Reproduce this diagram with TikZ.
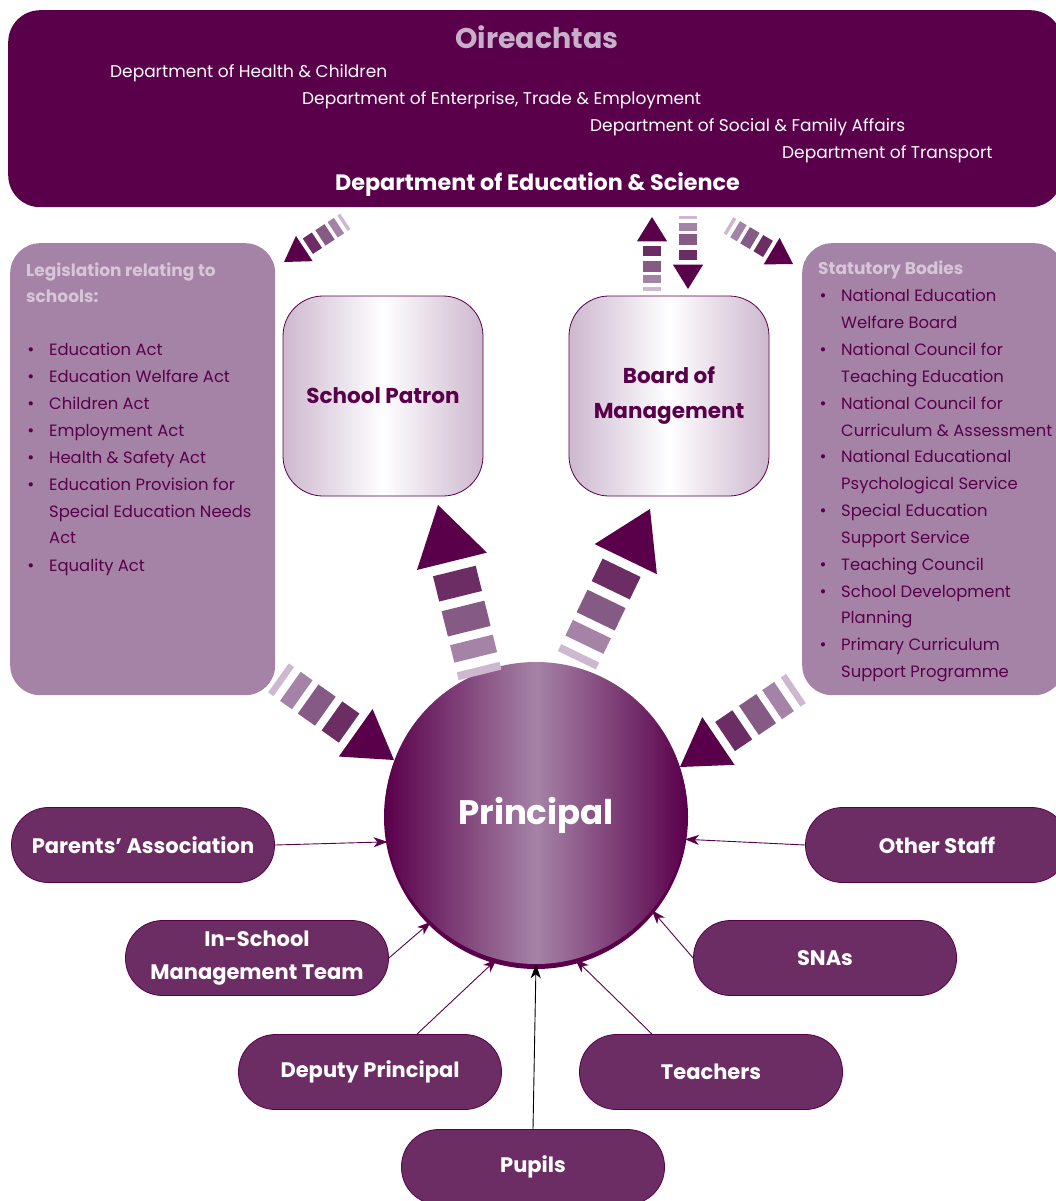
\documentclass[tikz,border=0pt]{standalone}
\usepackage{fontspec}
\setmainfont{Poppins}
\usetikzlibrary{arrows.meta,calc}
\definecolor{dk}{HTML}{5A004B}
\definecolor{pl}{HTML}{6B2D63}
\definecolor{c2}{HTML}{855A85}
\definecolor{lt}{HTML}{A583A6}
\definecolor{vlt}{HTML}{CDB8CF}
\definecolor{hd}{HTML}{D6C6D7}
\definecolor{oc}{HTML}{C8AFC9}
\newcommand\stripearrow[4]{%
  \begin{scope}[shift={(#1,#2)},rotate=#3,scale=#4]
    \fill[dk] (0,0) -- (-58,36) -- (-58,-36) -- cycle;
    \fill[pl] (-68,-22) rectangle (-94,22);
    \fill[c2] (-104,-22) rectangle (-130,22);
    \fill[lt] (-139,-22) rectangle (-157,22);
    \fill[vlt] (-167,-22) rectangle (-175,22);
  \end{scope}}
\begin{document}
\begin{tikzpicture}[x=1pt,y=-1pt,
  topbox/.style={fill=dk, rounded corners=32pt, anchor=north west, inner sep=0},
  sidebox/.style={fill=lt, rounded corners=30pt, anchor=north west, inner sep=0},
  gradbox/.style={draw=dk, line width=0.8pt, rounded corners=40pt, minimum width=200pt, minimum height=200pt,
    left color=vlt, right color=vlt, middle color=white, text=dk, align=center,
    font=\fontsize{21.5}{35}\selectfont\bfseries},
  pill/.style={fill=pl, draw=dk, line width=0.8pt, rounded corners=37pt, minimum width=263pt,
    minimum height=75pt, text=white, align=center, font=\fontsize{21}{33}\selectfont\bfseries},
  depttxt/.style={anchor=west, inner sep=0, text=white, font=\fontsize{17}{20}\selectfont},
  listtxt/.style={anchor=base west, inner sep=0, text=dk, font=\fontsize{16.4}{20}\selectfont},
  bul/.style={anchor=base, inner sep=0, text=dk, font=\fontsize{17}{20}\selectfont},
  hdtxt/.style={anchor=base west, inner sep=0, text=hd, font=\fontsize{17}{20}\selectfont\bfseries},
  conn/.style={draw=dk, line width=0.9pt, -{Stealth[length=14pt,width=10pt,inset=4pt]}}
]
\useasboundingbox (0,0) rectangle (1055,1201);
\fill[white] (0,0) rectangle (1055,1201);

% top box
\node[topbox, minimum width=1054pt, minimum height=197pt] (top) at (8,10) {};
\node[text=oc, inner sep=0, font=\fontsize{28.5}{30}\selectfont\bfseries] (oir) at (537,37) {Oireachtas};
\node[depttxt] (d1) at (110,73) {Department of Health \& Children};
\node[depttxt] (d2) at (302,100) {Department of Enterprise, Trade \& Employment};
\node[depttxt] (d3) at (590,127) {Department of Social \& Family Affairs};
\node[depttxt] (d4) at (782,154) {Department of Transport};
\node[inner sep=0, text=white, font=\fontsize{22.3}{24}\selectfont\bfseries] (des) at (537.5,185) {Department of Education \& Science};

% side boxes
\node[sidebox, minimum width=265pt, minimum height=452pt] (leg) at (10,243) {};
\node[sidebox, minimum width=262pt, minimum height=452pt] (stat) at (802,243) {};
\node[hdtxt] (lh1) at (26,276) {Legislation relating to};
\node[hdtxt] (lh2) at (26,302) {schools:};
\foreach \yy/\tx [count=\i] in {349/Education Act, 376/Education Welfare Act, 403/Children Act,
  430/Employment Act, 457/Health \& Safety Act, 484/Education Provision for,
  511/Special Education Needs, 537/Act, 565/Equality Act}
  \node[listtxt] (lt\i) at (49,\yy+6) {\tx};
\foreach \yy [count=\i] in {349,376,403,430,457,484,565}
  \node[bul] (lb\i) at (31,\yy+6) {•};
\node[hdtxt] (sh) at (818,274) {Statutory Bodies};
\foreach \yy/\tx [count=\i] in {295/National Education, 322/Welfare Board, 349/National Council for,
  376/Teaching Education, 403/National Council for, 430/Curriculum \& Assessment,
  456/National Educational, 483/Psychological Service, 510/Special Education,
  537/Support Service, 564/Teaching Council, 591/School Development, 617/Planning,
  644/Primary Curriculum, 671/Support Programme}
  \node[listtxt] (st\i) at (841,\yy+6) {\tx};
\foreach \yy [count=\i] in {295,349,403,456,510,564,591,644}
  \node[bul] (sb\i) at (823,\yy+6) {•};

% gradient boxes
\node[gradbox] (sp) at (383,396) {School Patron};
\node[gradbox] (bm) at (669,396) {Board of\\Management};

% principal
\fill[dk] (536,817) circle (152);
\node[circle, minimum size=302pt, inner sep=0, left color=dk, right color=dk, middle color=lt] (pr) at (536,813) {};
\node[inner sep=0, text=white, font=\fontsize{34}{40}\selectfont\bfseries] (prt) at (536,815) {Principal};

% striped arrows
\stripearrow{284}{262}{213.5}{0.42}
\stripearrow{793}{264}{-31}{0.43}
\stripearrow{652}{217}{90}{0.42}
\stripearrow{688}{289}{-90}{0.42}
\stripearrow{438}{505}{103.9}{1}
\stripearrow{650}{509}{64.2}{0.96}
\stripearrow{394}{760}{-35.4}{0.81}
\stripearrow{680}{767}{214.1}{0.8}

% pills
\node[pill] (pa) at (143,845) {Parents’ Association};
\node[pill] (ist) at (257,958) {In-School\\Management Team};
\node[pill] (dp) at (370,1072) {Deputy Principal};
\node[pill] (pu) at (533,1167) {Pupils};
\node[pill] (te) at (711,1072) {Teachers};
\node[pill] (sn) at (825,958) {SNAs};
\node[pill] (os) at (937,845) {Other Staff};

% connectors
\draw[conn] (pa.east) -- (pr.191);
\draw[conn] (ist.east) -- (pr.-134.5);
\draw[conn] ($(dp.north)+(47,0)$) -- (pr.-105);
\draw[conn, draw=black] (pu.north) -- (pr.south);
\draw[conn] ($(te.north)+(-59,0)$) -- (pr.-75);
\draw[conn] (sn.west) -- (pr.-40);
\draw[conn] (os.west) -- (pr.-10.6);
\end{tikzpicture}
\end{document}
